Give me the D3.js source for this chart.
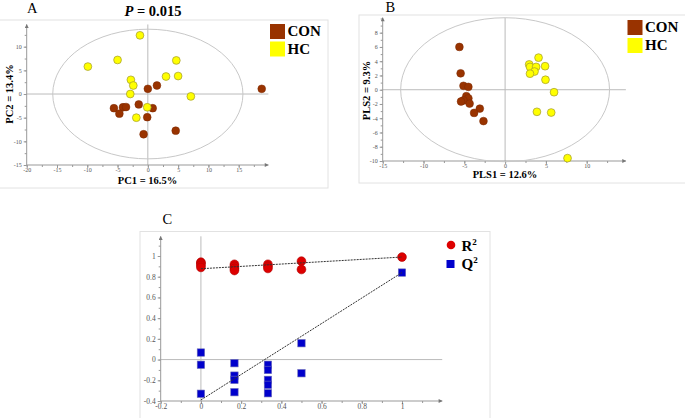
<!DOCTYPE html>
<html>
<head>
<meta charset="utf-8">
<script src="https://cdn.jsdelivr.net/npm/d3@7"></script>
<style>
  body { margin: 0; background: #fff; }
  svg { display: block; font-family: 'Liberation Serif', 'Times New Roman', serif; }
</style>
</head>
<body>
<div id="chart"></div>
<script>
// ---- data ----
// panel A: PCA scores (PC1, PC2)
let pcaCon = [[18.8, 1.1], [0, 1.1], [1.5, 1.8], [-5.6, -3.0], [-4.1, -2.8], [-3.6, -2.75],
  [-4.7, -4.15], [-1.5, -2.2], [0.8, -3.0], [-0.1, -4.9], [-0.7, -8.5], [4.6, -7.75]]
let pcaHc = [[-1.3, 12.4], [-9.9, 5.8], [-5.0, 7.2], [4.7, 7.1], [-2.8, 3.0], [-2.4, 1.8],
  [3.0, 3.7], [5.0, 3.8], [-2.9, 0], [7.1, -0.5], [-0.1, -2.8], [-1.9, -5.0]]
let pcaEllipse = [15.7, 13.7]
let pcaXTicks = [-20, -15, -10, -5, 0, 5, 10, 15]
let pcaYTicks = [-15, -10, -5, 0, 5, 10]

// panel B: PLS-DA scores (PLS1, PLS2)
let plsCon = [[-5.6, 6.0], [-5.45, 2.3], [-5.1, 0.55], [-4.5, 0.4], [-4.75, -0.9], [-4.5, -1.2],
  [-5.1, -1.5], [-5.4, -1.65], [-4.35, -1.95], [-3.1, -2.65], [-3.8, -3.25], [-2.65, -4.4]]
let plsHc = [[4.1, 4.5], [2.95, 3.55], [3.05, 3.2], [3.8, 3.2], [4.9, 3.3], [3.6, 2.55],
  [3.05, 2.25], [4.95, 1.4], [6.0, -0.35], [3.9, -3.1], [5.65, -3.2], [7.65, -9.6]]
let plsEllipse = [12.8, 10.1]
let plsXTicks = [-15, -10, -5, 0, 5, 10]
let plsYTicks = [-10, -8, -6, -4, -2, 0, 2, 4, 6, 8]

// panel C: permutation test
let r2Points = [[0, 0.94], [0, 0.93], [0, 0.91], [0, 0.89],
  [0.1667, 0.92], [0.1667, 0.90], [0.1667, 0.88], [0.1667, 0.86],
  [0.3333, 0.92], [0.3333, 0.90], [0.3333, 0.88],
  [0.5, 0.95], [0.5, 0.87], [1, 0.99]]
let q2Points = [[0, 0.068], [0, -0.05], [0, -0.33],
  [0.1667, -0.035], [0.1667, -0.155], [0.1667, -0.196], [0.1667, -0.315],
  [0.3333, -0.05], [0.3333, -0.1], [0.3333, -0.196], [0.3333, -0.244], [0.3333, -0.325],
  [0.5, 0.158], [0.5, -0.132], [1, 0.84]]
let r2Line = [[0, 0.877], [1, 0.99]]
let q2Line = [[0, -0.39], [1, 0.84]]
let permXTicks = [-0.2, 0, 0.2, 0.4, 0.6, 0.8, 1]
let permYTicks = [-0.4, -0.2, 0, 0.2, 0.4, 0.6, 0.8, 1]

let groups = ['CON', 'HC']
let colors = { CON: '#993300', HC: '#ffff00' }

let svg = d3
  .select('#chart')
  .append('svg')
  .attr('width', 685)
  .attr('height', 418)

svg.append('defs')
  .append('marker')
  .attr('id', 'arrow')
  .attr('viewBox', '0 0 10 10')
  .attr('refX', 9)
  .attr('refY', 5)
  .attr('markerWidth', 6)
  .attr('markerHeight', 4)
  .attr('orient', 'auto')
  .append('path')
  .attr('d', 'M0,0L10,5L0,10z')
  .attr('fill', '#777')

// light frames round the panels
function frame(x0, y0, x1, y1) {
  svg.append('rect')
    .attr('x', x0).attr('y', y0)
    .attr('width', x1 - x0).attr('height', y1 - y0)
    .attr('fill', 'none')
    .attr('stroke', '#e2e2e2')
}
frame(-1, 20, 328, 188)
frame(359, 15, 700, 183)
frame(140, 231.5, 490, 430)

// axes with arrow ends, minor ticks and cross lines through zero
function axes(x, y, xTicks, yTicks, xMinor, yMinor, xEnd, yEnd, fontSize) {
  let g = svg.append('g')
  let x0 = x.range()[0]
  let y0 = y.range()[0]
  let fmt = d => String(d)

  // minor ticks
  let xm = d3.range(xTicks[0], xEnd, xMinor)
  let ym = d3.range(yTicks[0], yEnd, yMinor)
  g.append('g')
    .attr('transform', `translate(0, ${y0})`)
    .call(d3.axisBottom(x).tickValues(xm).tickSize(2).tickFormat(''))
  g.append('g')
    .attr('transform', `translate(${x0}, 0)`)
    .call(d3.axisLeft(y).tickValues(ym).tickSize(2).tickFormat(''))

  // major ticks
  g.append('g')
    .attr('class', 'major')
    .attr('transform', `translate(0, ${y0})`)
    .call(d3.axisBottom(x).tickValues(xTicks).tickSize(3).tickPadding(0).tickFormat(fmt))
  g.append('g')
    .attr('class', 'major')
    .attr('transform', `translate(${x0}, 0)`)
    .call(d3.axisLeft(y).tickValues(yTicks).tickSize(3).tickPadding(2).tickFormat(fmt))

  g.selectAll('.domain').remove()
  g.selectAll('.tick line').attr('stroke', '#999')
  g.selectAll('.tick text')
    .attr('fill', '#555')
    .style('font-size', fontSize + 'px')
    .style('font-family', "'Liberation Serif', serif")

  // zero lines
  g.append('line')
    .attr('x1', x0).attr('x2', x(xEnd))
    .attr('y1', y(0)).attr('y2', y(0))
    .attr('stroke', '#bbb')
  g.append('line')
    .attr('x1', x(0)).attr('x2', x(0))
    .attr('y1', y0).attr('y2', y(yEnd))
    .attr('stroke', '#bbb')

  // axis lines with arrows
  g.append('line')
    .attr('x1', x0).attr('x2', x(xEnd))
    .attr('y1', y0).attr('y2', y0)
    .attr('stroke', '#999')
    .attr('marker-end', 'url(#arrow)')
  g.append('line')
    .attr('x1', x0).attr('x2', x0)
    .attr('y1', y0).attr('y2', y(yEnd))
    .attr('stroke', '#999')
    .attr('marker-end', 'url(#arrow)')
}

function scorePanel(opts) {
  let { x, y, con, hc, ellipse, xTicks, yTicks, xMinor, yMinor, xEnd, yEnd } = opts
  axes(x, y, xTicks, yTicks, xMinor, yMinor, xEnd, yEnd, 6)

  svg.append('ellipse')
    .attr('cx', x(0))
    .attr('cy', y(0))
    .attr('rx', x(ellipse[0]) - x(0))
    .attr('ry', y(0) - y(ellipse[1]))
    .attr('fill', 'none')
    .attr('stroke', '#c8c8c8')

  svg.append('g')
    .selectAll('.con')
    .data(con)
    .enter()
    .append('circle')
    .attr('class', 'con')
    .attr('cx', d => x(d[0]))
    .attr('cy', d => y(d[1]))
    .attr('r', 3.9)
    .attr('fill', colors.CON)
    .attr('stroke', '#7a2900')
    .attr('stroke-width', 0.5)

  svg.append('g')
    .selectAll('.hc')
    .data(hc)
    .enter()
    .append('circle')
    .attr('class', 'hc')
    .attr('cx', d => x(d[0]))
    .attr('cy', d => y(d[1]))
    .attr('r', 3.9)
    .attr('fill', colors.HC)
    .attr('stroke', '#a09a30')
    .attr('stroke-width', 0.7)
}

function groupLegend(lx, ly, gap) {
  groups.forEach((name, i) => {
    svg.append('rect')
      .attr('x', lx)
      .attr('y', ly + i * gap)
      .attr('width', 15)
      .attr('height', 15)
      .attr('fill', colors[name])
    svg.append('text')
      .attr('x', lx + 17.5)
      .attr('y', ly + i * gap + 12)
      .attr('font-size', 15)
      .attr('font-weight', 'bold')
      .text(name)
  })
}

function label(text, x, y, size, rotate) {
  let t = svg.append('text')
    .attr('font-size', size)
    .attr('font-weight', 'bold')
    .attr('text-anchor', 'middle')
    .text(text)
  if (rotate) t.attr('transform', `translate(${x}, ${y}) rotate(-90)`)
  else t.attr('x', x).attr('y', y)
}

// ---- panel A ----
let xA = d3.scaleLinear().domain([-20, 15]).range([26.7, 238.7])
let yA = d3.scaleLinear().domain([-15, 10]).range([165, 46.7])
scorePanel({ x: xA, y: yA, con: pcaCon, hc: pcaHc, ellipse: pcaEllipse,
  xTicks: pcaXTicks, yTicks: pcaYTicks, xMinor: 2.5, yMinor: 2.5, xEnd: 19.9, yEnd: 14.7 })
groupLegend(270, 24, 17.5)
label('PC1 = 16.5%', 147.5, 183.5, 10.5)
label('PC2 = 13.4%', 12.5, 94, 10.5, true)

svg.append('text')
  .attr('x', 27).attr('y', 13)
  .attr('font-size', 14.5)
  .text('A')

let title = svg.append('text')
  .attr('x', 153).attr('y', 16)
  .attr('font-size', 14.5)
  .attr('font-weight', 'bold')
  .attr('text-anchor', 'middle')
title.append('tspan').attr('font-style', 'italic').text('P')
title.append('tspan').text(' = 0.015')

// ---- panel B ----
let xB = d3.scaleLinear().domain([-15, 10]).range([382.7, 586.7])
let yB = d3.scaleLinear().domain([-10, 8]).range([161, 32.7])
scorePanel({ x: xB, y: yB, con: plsCon, hc: plsHc, ellipse: plsEllipse,
  xTicks: plsXTicks, yTicks: plsYTicks, xMinor: 2.5, yMinor: 1, xEnd: 14.8, yEnd: 10.1 })
groupLegend(627.5, 20, 18)
label('PLS1 = 12.6%', 505, 178, 10.5)
label('PLS2 = 9.3%', 369.5, 90.5, 10.5, true)

svg.append('text')
  .attr('x', 385.5).attr('y', 12)
  .attr('font-size', 14.5)
  .text('B')

// ---- panel C ----
let xC = d3.scaleLinear().domain([-0.2, 1]).range([160.7, 402])
let yC = d3.scaleLinear().domain([-0.4, 1]).range([401, 256])
axes(xC, yC, permXTicks, permYTicks, 0.1, 0.1, 1.2, 1.19, 7.5)

let line = d3.line().x(d => xC(d[0])).y(d => yC(d[1]))

svg.append('g')
  .selectAll('.r2')
  .data(r2Points)
  .enter()
  .append('circle')
  .attr('class', 'r2')
  .attr('cx', d => xC(d[0]))
  .attr('cy', d => yC(d[1]))
  .attr('r', 4.4)
  .attr('fill', '#dd0000')
  .attr('stroke', '#b00000')
  .attr('stroke-width', 0.6)

svg.append('g')
  .selectAll('.q2')
  .data(q2Points)
  .enter()
  .append('rect')
  .attr('class', 'q2')
  .attr('x', d => xC(d[0]) - 3.7)
  .attr('y', d => yC(d[1]) - 3.7)
  .attr('width', 7.4)
  .attr('height', 7.4)
  .attr('fill', '#0000cc')
  .attr('stroke', '#6a6ab8')
  .attr('stroke-width', 0.6)

;[r2Line, q2Line].forEach(l => {
  svg.append('path')
    .attr('d', line(l))
    .attr('fill', 'none')
    .attr('stroke', '#333')
    .attr('stroke-width', 1)
    .attr('stroke-dasharray', '2,1')
})

svg.append('text')
  .attr('x', 162.5).attr('y', 224)
  .attr('font-size', 14.5)
  .text('C')

// legend C
svg.append('circle')
  .attr('cx', 451).attr('cy', 245)
  .attr('r', 4.3)
  .attr('fill', '#dd0000')
svg.append('rect')
  .attr('x', 446.5).attr('y', 260)
  .attr('width', 8).attr('height', 8)
  .attr('fill', '#0000cc')
let legC = [['R', 250.5], ['Q', 268.5]]
legC.forEach(([name, yy]) => {
  let t = svg.append('text')
    .attr('x', 461.5).attr('y', yy)
    .attr('font-size', 15)
    .attr('font-weight', 'bold')
  t.append('tspan').text(name)
  t.append('tspan').attr('dy', -6).attr('font-size', 9).text('2')
})
</script>
</body>
</html>
